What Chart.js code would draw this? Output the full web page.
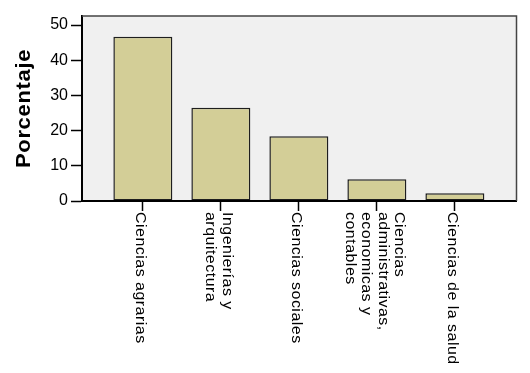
<!DOCTYPE html>
<html>
<head>
<meta charset="utf-8">
<script src="https://cdn.jsdelivr.net/npm/chart.js@4"></script>
<style>
  html, body { margin: 0; padding: 0; background: #ffffff; }
  #wrap { width: 530px; height: 373px; }
</style>
</head>
<body>
<div id="wrap"><canvas id="c" width="530" height="373"></canvas></div>
<script>
const categories = [
  ["Ciencias agrarias"],
  ["Ingenierías y", "arquitectura"],
  ["Ciencias sociales"],
  ["Ciencias", "administrativas,", "economicas y", "contables"],
  ["Ciencias de la salud"]
];
const percentages = [46.7, 26.5, 18.4, 6.2, 2.2];
const yTicks = [0, 10, 20, 30, 40, 50];
const yTitle = "Porcentaje";

const FONT = '"Liberation Sans", Arial, sans-serif';

const framePlugin = {
  id: 'frame',
  beforeDraw(chart) {
    const { ctx, chartArea: a } = chart;
    ctx.save();
    ctx.fillStyle = '#F0F0F0';
    ctx.fillRect(a.left, a.top, a.right - a.left, a.bottom - a.top);
    ctx.restore();
  },
  afterDraw(chart) {
    const { ctx, chartArea: a } = chart;
    ctx.save();
    ctx.strokeStyle = '#444444';
    ctx.lineWidth = 1.5;
    ctx.beginPath();
    ctx.moveTo(a.left, a.top);
    ctx.lineTo(a.right, a.top);
    ctx.lineTo(a.right, a.bottom);
    ctx.stroke();
    ctx.restore();

    // x category labels, rotated clockwise
    const xs = chart.scales.x;
    ctx.save();
    ctx.fillStyle = '#000000';
    ctx.font = '14.5px ' + FONT;
    categories.forEach((lines, i) => {
      const x = xs.getPixelForValue(i) - 2.5;
      const n = lines.length;
      lines.forEach((line, k) => {
        const cx = x + ((n - 1) / 2 - k) * 16.5;
        ctx.save();
        ctx.translate(cx, a.bottom + 11);
        ctx.rotate(Math.PI / 2);
        ctx.scale(1.1, 1);
        ctx.letterSpacing = '0.45px';
        ctx.textAlign = 'left';
        ctx.textBaseline = 'middle';
        ctx.fillText(line, 0, 0);
        ctx.restore();
      });
    });
    ctx.restore();

    // y axis title
    ctx.save();
    ctx.fillStyle = '#000000';
    ctx.font = 'bold 20px ' + FONT;
    ctx.translate(24, (a.top + a.bottom) / 2);
    ctx.rotate(-Math.PI / 2);
    ctx.scale(1.1, 1);
    ctx.letterSpacing = '0.6px';
    ctx.textAlign = 'center';
    ctx.textBaseline = 'middle';
    ctx.fillText(yTitle, 0, 0);
    ctx.restore();
  }
};

new Chart(document.getElementById('c'), {
  type: 'bar',
  data: {
    datasets: [{
      data: percentages.map((v, i) => ({ x: i, y: v })),
      backgroundColor: '#D3CE97',
      borderColor: '#1e1e1e',
      borderWidth: 1.5,
      borderSkipped: false,
      categoryPercentage: 1,
      barPercentage: 0.756
    }]
  },
  options: {
    responsive: false,
    animation: false,
    devicePixelRatio: 1,
    layout: { padding: { top: 16, right: 13.5, left: 0, bottom: 0 } },
    plugins: { legend: { display: false }, tooltip: { enabled: false } },
    scales: {
      x: {
        type: 'linear',
        offset: false,
        min: -0.78,
        max: 4.79,
        afterBuildTicks(scale) {
          scale.ticks = categories.map((c, i) => ({ value: i }));
        },
        afterFit(scale) { scale.height = 172; },
        ticks: { display: false },
        grid: { offset: false, drawOnChartArea: false, drawTicks: true, tickLength: 10, tickColor: '#000000', tickWidth: 1.5 },
        border: { display: true, color: '#000000', width: 2, z: 1 }
      },
      y: {
        type: 'linear',
        min: 0,
        max: 52.56,
        afterBuildTicks(scale) {
          scale.ticks = yTicks.map(v => ({ value: v }));
        },
        afterFit(scale) { scale.width = 82; },
        ticks: { color: '#000000', font: { size: 16, family: FONT }, padding: 3 },
        grid: { drawOnChartArea: false, drawTicks: true, tickLength: 11, tickColor: '#000000', tickWidth: 1.5 },
        border: { display: true, color: '#000000', width: 2, z: 1 }
      }
    }
  },
  plugins: [framePlugin]
});
</script>
</body>
</html>
